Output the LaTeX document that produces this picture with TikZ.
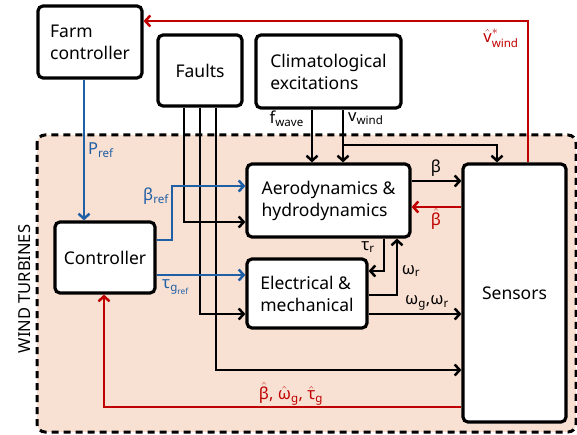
\documentclass[tikz,border=0pt]{standalone}
\usepackage{fontspec}
\usepackage{amsmath}
\setmainfont{Noto Sans}
\usetikzlibrary{arrows.meta}
\definecolor{cred}{HTML}{C00000}
\definecolor{cblue}{HTML}{1F5FA6}
\definecolor{cfill}{HTML}{F8E0D2}
\newcommand{\tx}[1]{\text{#1}}
\begin{document}
\begin{tikzpicture}[x=1pt,y=-1pt,
  box/.style={draw,line width=3.2pt,rounded corners=5pt,fill=white,inner sep=2pt,
    font=\fontsize{17.5}{22}\selectfont,align=left},
  arr/.style={line width=2.5pt,-{Straight Barb[length=5pt,width=11pt,line width=2.5pt]}},
  redarr/.style={arr,draw=cred},
  bluearr/.style={arr,draw=cblue,line width=2.8pt},
  lab/.style={font=\fontsize{16.5}{19}\selectfont,inner sep=0pt}]
\useasboundingbox (0,0) rectangle (577,435);
% region
\draw[line width=3pt,dash pattern=on 7pt off 5pt,rounded corners=8pt,fill=cfill] (37,135) rectangle (576,432);
\node[lab,rotate=90] (wt) at (25,289) {WIND TURBINES};
% boxes
\node[box,minimum width=104pt,minimum height=72pt] (farm) at (90,42) {Farm\\controller};
\node[box,minimum width=84pt,minimum height=71pt] (faults) at (200,70.5) {Faults};
\node[box,minimum width=145pt,minimum height=73pt] (climat) at (328.5,71.5) {Climatological\\excitations};
\node[box,minimum width=163pt,minimum height=73pt] (aero) at (328.5,200.5) {Aerodynamics \&\\hydrodynamics};
\node[box,minimum width=120pt,minimum height=69pt] (elec) at (307,293.5) {Electrical \&\\mechanical};
\node[box,minimum width=100pt,minimum height=71pt] (ctrl) at (105,257.5) {Controller};
\node[box,minimum width=103pt,minimum height=258pt] (sens) at (514.5,293) {Sensors};
% faults lines
\draw[arr] ([xshift=-16pt]faults.south) |- ([yshift=-21.5pt]aero.west);
\draw[arr] (faults.south) |- ([yshift=-20.5pt]elec.west);
\draw[arr] ([xshift=16pt]faults.south) |- ([yshift=-77pt]sens.west);
% climatological
\draw[arr] ([xshift=-16.5pt]climat.south) -- ([xshift=-16.5pt]aero.north);
\draw[arr] ([xshift=14.5pt]climat.south) -- ([xshift=14.5pt]aero.north);
\coordinate (vb) at (343,145);
\draw[arr] (vb) -| ([xshift=-17.5pt]sens.north);
% aero <-> sensors
\coordinate (b1) at ([yshift=19.5pt]aero.east);
\draw[arr] (b1) -- (b1 -| sens.west);
\coordinate (bh) at ([yshift=-6.5pt]aero.east);
\draw[redarr,line width=2.8pt] (bh -| sens.west) -- (bh);
% aero <-> elec
\draw[arr] ([xshift=55.5pt]aero.south) |- ([yshift=22.5pt]elec.east);
\draw[arr] ([yshift=-1.5pt]elec.east) -| ([xshift=68.5pt]aero.south);
\coordinate (wg) at ([yshift=-20.5pt]elec.east);
\draw[arr] (wg) -- (wg -| sens.west);
% red feedback
\draw[redarr] ([yshift=-114pt]sens.west) -| ([xshift=-1pt]ctrl.south);
\draw[redarr] ([xshift=13.5pt]sens.north) |- ([yshift=21pt]farm.east);
% blue
\draw[bluearr] ([xshift=-6pt]farm.south) -- ([xshift=-21pt]ctrl.north);
\coordinate (bc) at (172,186);
\draw[bluearr] ([yshift=17.5pt]ctrl.east) -| (bc) -- (bc -| aero.west);
\coordinate (tg) at ([yshift=-17.5pt]ctrl.east);
\draw[bluearr] (tg) -- (tg -| elec.west);
% labels
\node[lab,text=cblue,anchor=west] (lp) at (88,150) {P$_{\tx{ref}}$};
\node[lab,text=cblue,anchor=east] (lb) at (169,196) {β$_{\tx{ref}}$};
\node[lab,text=cblue,anchor=west] (lt) at (162,287) {τ$_{\tx{g}_{\tx{ref}}}$};
\node[lab,anchor=east] (lf) at (304,119) {f$_{\tx{wave}}$};
\node[lab,anchor=west] (lv) at (348,119) {v$_{\tx{wind}}$};
\node[lab] (lbeta) at (436,168) {β};
\node[lab,text=cred] (lbh) at (436,219) {$\hat{\tx{β}}$};
\node[lab] (ltr) at (368,247) {τ$_{\tx{r}}$};
\node[lab] (lwr) at (411,271) {ω$_{\tx{r}}$};
\node[lab] (lwg) at (427,303) {ω$_{\tx{g}}$,ω$_{\tx{r}}$};
\node[lab,text=cred] (lfb) at (291,394) {$\hat{\tx{β}}$, $\hat{\tx{ω}}_{\tx{g}}$, $\hat{\tx{τ}}_{\tx{g}}$};
\node[lab,text=cred] (lvw) at (501,38) {$\hat{\tx{v}}^{*}_{\tx{wind}}$};
\end{tikzpicture}
\end{document}
